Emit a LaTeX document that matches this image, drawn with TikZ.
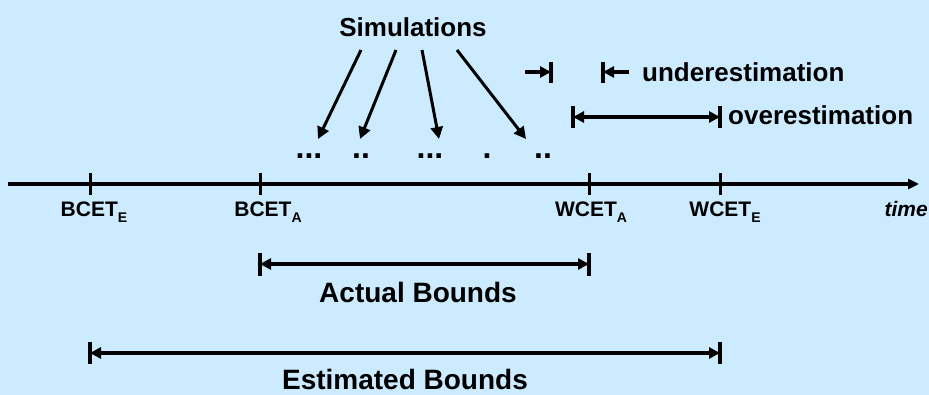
\documentclass[tikz,border=0pt]{standalone}
\usepackage{fontspec}
\setmainfont{Liberation Sans}
\usetikzlibrary{arrows.meta}
\definecolor{bgblue}{RGB}{204,235,255}
\tikzset{
  lbl/.style={font=\bfseries\fontsize{21}{25}\selectfont, anchor=base, inner sep=0pt},
  big/.style={font=\bfseries\fontsize{28}{32}\selectfont, anchor=base, inner sep=0pt, text depth=0pt},
  mid/.style={font=\bfseries\fontsize{26}{30}\selectfont, anchor=base, inner sep=0pt},
  dots/.style={font=\bfseries\fontsize{32}{34}\selectfont, anchor=base, inner sep=0pt},
  simarrow/.style={line width=3pt, -{Triangle[length=12pt,width=12pt]}},
  dimline/.style={line width=3.2pt, {Triangle[length=11pt,width=11pt]}-{Triangle[length=11pt,width=11pt]}},
  halfarrow/.style={line width=3.2pt, -{Triangle[length=11pt,width=11pt]}},
  barline/.style={line width=3.4pt},
  axisline/.style={line width=3.4pt, -{Triangle[length=11pt,width=10pt]}},
  tickline/.style={line width=3pt}
}
\newcommand{\lsub}[1]{\raisebox{-6pt}{\bfseries\fontsize{14}{14}\selectfont #1}}
\begin{document}
\begin{tikzpicture}[x=1pt,y=-1pt]
\fill[bgblue] (0,0) rectangle (929,395);
\useasboundingbox (0,0) rectangle (929,395);

% Simulations and arrows
\node[mid] (sim) at (413,37) {Simulations};
\coordinate (s1) at (361,50);
\coordinate (s2) at (396,50);
\coordinate (s3) at (422,50);
\coordinate (s4) at (457,50);
\coordinate (e1) at (318,139);
\coordinate (e2) at (360,139);
\coordinate (e3) at (439,139);
\coordinate (e4) at (526,139);
\draw[simarrow] (s1) -- (e1);
\draw[simarrow] (s2) -- (e2);
\draw[simarrow] (s3) -- (e3);
\draw[simarrow] (s4) -- (e4);

% dots
\node[dots] (d1) at (309,159) {...};
\node[dots] (d2) at (361,159) {..};
\node[dots] (d3) at (430,159) {...};
\node[dots] (d4) at (487,159) {.};
\node[dots] (d5) at (543,159) {..};

% underestimation
\coordinate (u1s) at (525,72);
\coordinate (u1e) at (551,72);
\coordinate (u2s) at (629,72);
\coordinate (u2e) at (603,72);
\draw[halfarrow] (u1s) -- (u1e);
\draw[barline] (551,62) -- (551,83);
\draw[halfarrow] (u2s) -- (u2e);
\draw[barline] (603,62) -- (603,83);
\node[mid, anchor=base west] (under) at (642,82) {underestimation};

% overestimation
\coordinate (o1) at (573,117);
\coordinate (o2) at (720,117);
\draw[dimline] (o1) -- (o2);
\draw[barline] (573,106) -- (573,128);
\draw[barline] (720,106) -- (720,128);
\node[mid, anchor=base west] (over) at (728,125) {overestimation};

% axis
\coordinate (ax0) at (8,184);
\coordinate (ax1) at (919,184);
\draw[axisline] (ax0) -- (ax1);
\foreach \x in {90,260,589,720}{
  \draw[tickline] (\x,173) -- (\x,195);
}
\node[lbl] (be) at (94,217) {BCET\lsub{E}};
\node[lbl] (ba) at (268,217) {BCET\lsub{A}};
\node[lbl] (wa) at (591,217) {WCET\lsub{A}};
\node[lbl] (we) at (725,217) {WCET\lsub{E}};
\node[lbl, anchor=base east, font=\bfseries\itshape\fontsize{21}{25}\selectfont] (time) at (928,217) {time};

% actual bounds
\coordinate (a1) at (260,264);
\coordinate (a2) at (589,264);
\draw[dimline] (a1) -- (a2);
\draw[barline] (260,253) -- (260,276);
\draw[barline] (589,253) -- (589,276);
\node[big] (act) at (418,302) {Actual Bounds};

% estimated bounds
\coordinate (es1) at (90,353);
\coordinate (es2) at (720,353);
\draw[dimline] (es1) -- (es2);
\draw[barline] (90,342) -- (90,364);
\draw[barline] (720,342) -- (720,364);
\node[big] (est) at (405,389) {Estimated Bounds};
\end{tikzpicture}
\end{document}
